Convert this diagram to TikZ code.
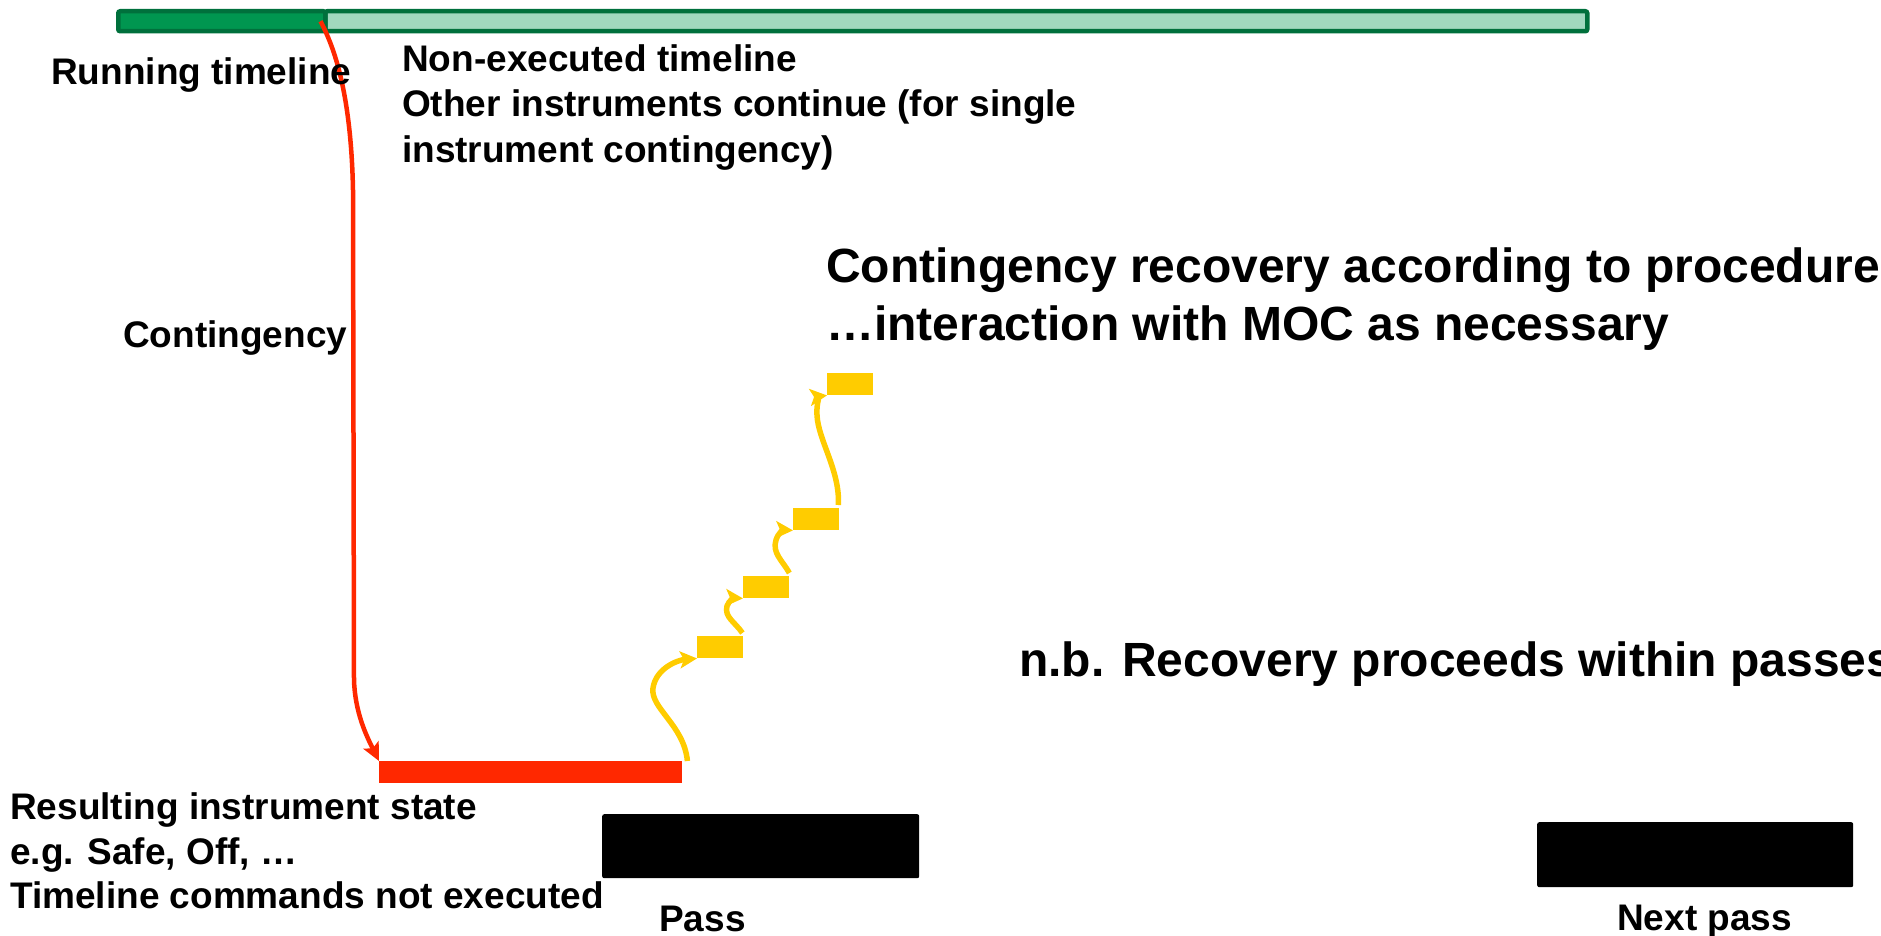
\documentclass[tikz,border=0pt]{standalone}
\usepackage{fontspec}
\setmainfont{Liberation Sans}
\usetikzlibrary{arrows.meta}

\definecolor{tlborder}{RGB}{0,112,60}
\definecolor{tlrun}{RGB}{0,150,80}
\definecolor{tlidle}{RGB}{160,216,190}
\definecolor{flowred}{RGB}{255,40,0}
\definecolor{stepyellow}{RGB}{255,204,0}

\tikzset{
  lbl/.style={anchor=base west, inner sep=0pt, font=\bfseries\fontsize{37}{44}\selectfont},
  biglbl/.style={anchor=base west, inner sep=0pt, font=\bfseries\fontsize{48}{58}\selectfont},
  bar/.style={anchor=north west, inner sep=0pt, draw=tlborder, line width=4.5pt, rounded corners=2pt},
  statebar/.style={anchor=north west, inner sep=0pt, fill=flowred, minimum width=303pt, minimum height=22pt},
  passbox/.style={anchor=north west, inner sep=0pt, fill=black, rounded corners=2pt},
  stepbox/.style={anchor=north west, inner sep=0pt, fill=stepyellow, minimum width=46pt, minimum height=22pt},
  redflow/.style={draw=flowred, line width=4.5pt, -{Stealth[length=18pt,width=17pt,inset=4pt]}},
  yellowflow/.style={draw=stepyellow, line width=5.5pt, -{Stealth[length=17pt,width=17pt,inset=4pt]}},
}

\begin{document}
\begin{tikzpicture}[x=1pt,y=-1pt]
  \useasboundingbox (0,0) rectangle (1881,936);

  % timeline bar: executed part and non-executed part
  \node[bar, fill=tlidle, minimum width=1262pt, minimum height=20pt] (idlebar) at (323,9) {};
  \node[bar, fill=tlrun, minimum width=207pt, minimum height=20pt] (runbar) at (116,9) {};

  % resulting instrument state
  \node[statebar] (state) at (379,761) {};

  % recovery steps
  \node[stepbox] (s1) at (697,636) {};
  \node[stepbox] (s2) at (743,576) {};
  \node[stepbox] (s3) at (793,508) {};
  \node[stepbox] (s4) at (827,373) {};

  % ground station passes
  \node[passbox, minimum width=317pt, minimum height=64pt] (pass) at (602,814) {};
  \node[passbox, minimum width=316pt, minimum height=65pt] (nextpass) at (1537,822) {};

  % contingency: drop from the running timeline into the safe state
  \draw[redflow] ([xshift=-7pt]runbar.east)
     .. controls (333,45) and (351,90) .. (353,190)
     -- (354,680)
     .. controls (355,712) and (366,735) .. (state.north west);

  % step-wise recovery
  \draw[yellowflow] ([xshift=5pt]state.north east)
     .. controls (684,725) and (650,708) .. (653,688)
     .. controls (656,668) and (678,660) .. (s1.south west);
  \draw[yellowflow] ([xshift=-1pt,yshift=3pt]s1.north east)
     .. controls (735,622) and (724,617) .. (727,606)
     .. controls (729,600) and (735,598) .. (s2.south west);
  \draw[yellowflow] ([yshift=3pt]s2.north east)
     .. controls (782,560) and (772,553) .. (776,540)
     .. controls (778,533) and (784,530) .. (s3.south west);
  \draw[yellowflow] ([xshift=-1pt,yshift=3pt]s3.north east)
     .. controls (840,470) and (818,440) .. (817,415)
     .. controls (816,400) and (822,396) .. (s4.south west);

  % labels
  \node[lbl] (runlbl) at (51,85) {Running timeline};
  \node[lbl] (idle1) at (402,72) {Non-executed timeline};
  \node[lbl] (idle2) at (402,117) {Other instruments continue (for single};
  \node[lbl] (idle3) at (402,163) {instrument contingency)};
  \node[lbl] (contlbl) at (123,347) {Contingency};
  \node[biglbl] (rec1) at (826,282) {Contingency recovery according to procedure};
  \node[biglbl] (rec2) at (826,340) {…interaction with MOC as necessary};
  \node[biglbl] (nb) at (1019,676) {n.b. Recovery proceeds within passes};
  \node[lbl] (st1) at (10,819) {Resulting instrument state};
  \node[lbl] (st2) at (10,864) {e.g. Safe, Off, …};
  \node[lbl] (st3) at (10,908) {Timeline commands not executed};
  \node[lbl] (passlbl) at (659,931) {Pass};
  \node[lbl] (nextlbl) at (1617,930) {Next pass};
\end{tikzpicture}
\end{document}
